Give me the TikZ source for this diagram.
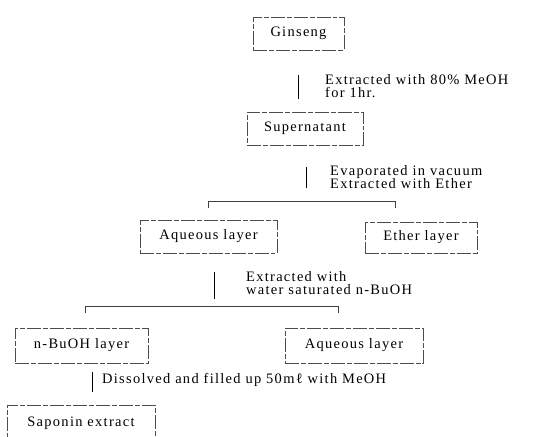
\documentclass[tikz,border=0pt]{standalone}
\usepackage{fontspec}
\setmainfont{Liberation Serif}[LetterSpace=9]

\begin{document}
\begin{tikzpicture}[x=1bp,y=-1bp,
    font=\fontsize{14.5}{13.5}\selectfont,
    flowbox/.style={draw=black!70,line width=0.6pt,dash pattern=on 14pt off 2pt on 5pt off 2pt,inner sep=0pt},
    stepline/.style={line width=1pt},
    splitline/.style={draw=black!75,line width=0.6pt},
    steptext/.style={anchor=west,align=left,inner sep=0pt}]
      \useasboundingbox (0,0) rectangle (534,437);
      \node[flowbox,minimum width=91bp,minimum height=33bp] (ginseng) at (298.5,33.5) {Ginseng};
      \node[flowbox,minimum width=116bp,minimum height=33bp] (super) at (305,128.5) {Supernatant};
      \node[flowbox,minimum width=137bp,minimum height=33bp] (aqueous) at (208.5,236.5) {Aqueous layer};
      \node[flowbox,minimum width=112bp,minimum height=31bp] (ether) at (421,237.5) {Ether layer};
      \node[flowbox,minimum width=133bp,minimum height=35bp] (butanol) at (81.5,345.5) {n-BuOH layer};
      \node[flowbox,minimum width=138bp,minimum height=35bp] (aqueousB) at (354,345.5) {Aqueous layer};
      \node[flowbox,minimum width=148bp,minimum height=36bp] (saponin) at (81,423) {Saponin extract};
      %
      \node[steptext] (extract) at (325,86) {Extracted with 80\% MeOH\\for 1hr.};
      \node[steptext] (evap) at (330,177) {Evaporated in vacuum\\Extracted with Ether};
      \node[steptext] (partition) at (246,283) {Extracted with\\water saturated n-BuOH};
      \node[steptext] (dissolve) at (102,380) {Dissolved and filled up 50mℓ with MeOH};
      %
      \coordinate (g1) at (298,75);  \coordinate (g2) at (298,99);
      \coordinate (s1) at (306,167); \coordinate (s2) at (306,188);
      \coordinate (a1) at (214,272); \coordinate (a2) at (214,299);
      \coordinate (b1) at (92,372);  \coordinate (b2) at (92,392);
      \draw[stepline] (g1) -- (g2);
      \draw[stepline] (s1) -- (s2);
      \draw[stepline] (a1) -- (a2);
      \draw[stepline] (b1) -- (b2);
      %
      \coordinate (split1l) at (208,208); \coordinate (split1r) at (395,208);
      \coordinate (split2l) at (85,313);  \coordinate (split2r) at (338,313);
      \draw[splitline] (split1l) -- ++(0,-7) -| (split1r);
      \draw[splitline] (split2l) -- ++(0,-7) -| (split2r);
\end{tikzpicture}
\end{document}
